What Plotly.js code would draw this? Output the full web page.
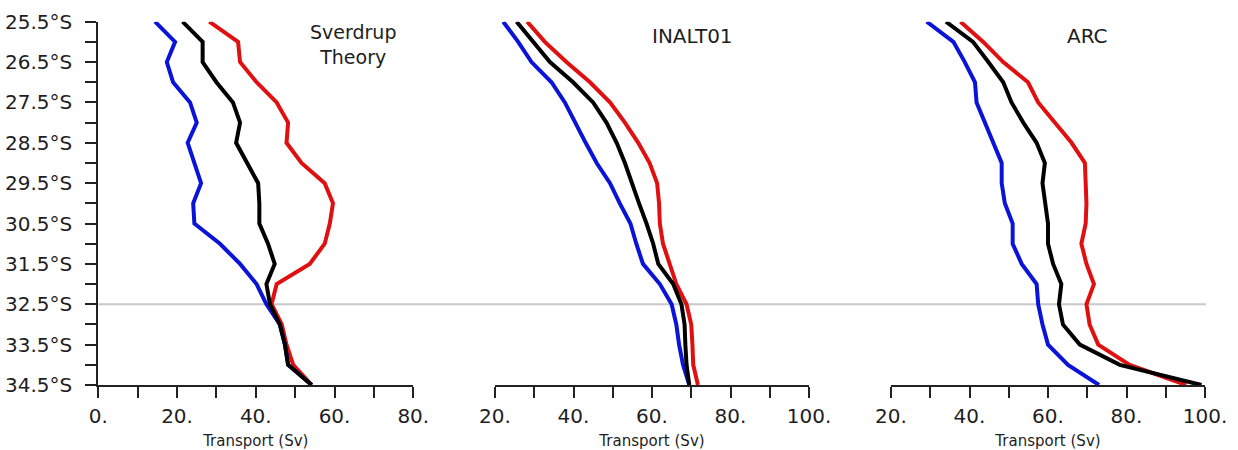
<!DOCTYPE html>
<html>
<head>
<meta charset="utf-8">
<script src="https://cdn.plot.ly/plotly-3.0.1.min.js"></script>
<style>html,body{margin:0;padding:0;background:#fff;}#chart{width:1238px;height:450px;}</style>
</head>
<body>
<div id="chart"></div>
<script>
// Latitudes (degrees South)
const lat = [25.5,26.0,26.5,27.0,27.5,28.0,28.5,29.0,29.5,30.0,30.5,31.0,31.5,32.0,32.5,33.0,33.5,34.0,34.5];

// Panel 1: Sverdrup Theory
const sverBlue  = [14.4,19.5,17.4,19.0,23.3,25.0,22.7,24.4,26.1,24.1,24.4,30.9,36.0,40.2,42.7,46.1,47.4,48.2,54.2];
const sverBlack = [21.4,26.5,26.5,30.0,34.2,36.0,35.0,37.7,40.6,40.9,40.9,43.1,44.8,42.7,43.6,46.1,47.4,48.2,54.2];
const sverRed   = [28.2,35.5,36.0,40.2,45.3,48.2,47.8,51.6,57.5,59.6,58.8,57.5,53.7,45.3,44.0,46.6,47.8,49.5,54.2];

// Panel 2: INALT01
const inaltBlue  = [22.1,25.9,29.3,34.4,37.8,40.4,43.1,45.9,49.3,51.8,54.5,56.0,57.7,62.0,65.0,66.2,66.9,67.9,69.5];
const inaltBlack = [25.5,29.7,34.0,39.9,45.0,48.4,51.0,53.1,54.8,56.7,58.6,60.3,61.6,65.4,67.5,68.3,68.5,68.8,69.5];
const inaltRed   = [28.2,32.7,38.2,44.2,49.3,53.1,56.5,59.4,61.3,61.8,62.0,62.8,64.5,66.2,68.8,70.0,70.3,70.5,71.7];

// Panel 3: ARC
const arcBlue  = [29.1,35.9,38.8,41.4,41.8,43.9,46.0,48.2,48.2,49.0,51.0,51.0,53.3,57.1,57.5,58.6,60.0,65.1,73.0];
const arcBlack = [34.0,40.9,44.8,48.6,50.7,53.7,57.1,59.2,58.6,59.2,60.0,60.0,61.3,63.4,62.8,63.8,68.1,78.3,99.1];
const arcRed   = [37.7,43.5,48.6,54.9,57.5,61.7,66.0,69.4,69.6,69.8,69.6,68.5,69.8,71.7,69.8,70.6,72.8,80.8,95.2];

const panelTitles = ["Sverdrup<br>Theory", "INALT01", "ARC"];
const xLabel = "Transport (Sv)";
const latTickVals = [25.5,26.0,26.5,27.0,27.5,28.0,28.5,29.0,29.5,30.0,30.5,31.0,31.5,32.0,32.5,33.0,33.5,34.0,34.5];
const latTickText = latTickVals.map(v => (v % 1 !== 0) ? v.toFixed(1) + "°S" : "");
const x1TickVals = [0,10,20,30,40,50,60,70,80];
const x1TickText = ["0.","","20.","","40.","","60.","","80."];
const x23TickVals = [20,30,40,50,60,70,80,90,100];
const x23TickText = ["20.","","40.","","60.","","80.","","100."];
const refLat = 32.5;

const colors = {blue:"#0a14d8", black:"#000000", red:"#e01010"};
const W = 1238, H = 450;
const FONT = "DejaVu Sans";
const TXT = "#1e1e1e";

function tr(x, y, color, xa) {
  return {x: x, y: y, xaxis: xa, yaxis: "y", mode: "lines", type: "scatter",
          line: {color: color, width: 4}, hoverinfo: "skip", showlegend: false};
}
const data = [
  tr(sverRed, lat, colors.red, "x"), tr(sverBlue, lat, colors.blue, "x"), tr(sverBlack, lat, colors.black, "x"),
  tr(inaltRed, lat, colors.red, "x2"), tr(inaltBlue, lat, colors.blue, "x2"), tr(inaltBlack, lat, colors.black, "x2"),
  tr(arcRed, lat, colors.red, "x3"), tr(arcBlue, lat, colors.blue, "x3"), tr(arcBlack, lat, colors.black, "x3")
];

function xax(domain, range, tv, tt) {
  return {domain: domain, range: range, anchor: "y", showgrid: false, zeroline: false,
          showline: true, linecolor: "#222", linewidth: 2,
          ticks: "outside", ticklen: 11, tickwidth: 2, tickcolor: "#222",
          tickmode: "array", tickvals: tv, ticktext: tt, ticklabelstandoff: 1,
          tickfont: {family: FONT, size: 20, color: TXT},
          title: {text: xLabel, font: {family: FONT, size: 15, color: TXT}, standoff: 9}};
}

const yTop = 21.7, yBot = 385;
function ann(text, xa, xv, ypx, size) {
  return {text: text, xref: xa, yref: "paper", x: xv, y: 1 - ypx/H, xanchor: "center", yanchor: "middle",
          showarrow: false, font: {family: FONT, size: size, color: TXT}};
}
const layout = {
  width: W, height: H,
  margin: {l: 0, r: 0, t: 0, b: 0},
  paper_bgcolor: "#fff", plot_bgcolor: "rgba(0,0,0,0)",
  showlegend: false,
  xaxis:  xax([98.3/W, 413.3/W], [0, 80], x1TickVals, x1TickText),
  xaxis2: xax([495/W, 809/W], [20, 100], x23TickVals, x23TickText),
  xaxis3: xax([891/W, 1205/W], [20, 100], x23TickVals, x23TickText),
  yaxis: {domain: [1 - yBot/H, 1 - yTop/H], range: [34.5, 25.5], anchor: "x",
          showgrid: false, zeroline: false, showline: true, linecolor: "#222", linewidth: 2,
          ticks: "outside", ticklen: 11, tickwidth: 2, tickcolor: "#222",
          tickmode: "array", tickvals: latTickVals, ticktext: latTickText, ticklabelstandoff: 9,
          tickfont: {family: FONT, size: 20, color: TXT}},
  shapes: [{type: "line", xref: "paper", yref: "y", x0: 98.3/W, x1: 1206/W, y0: refLat, y1: refLat,
            line: {color: "#c8c8c8", width: 2}, layer: "below"}],
  annotations: [
    ann(panelTitles[0], "x", 64.6, 45, 19),
    ann(panelTitles[1], "x2", 70.4, 35.5, 20),
    ann(panelTitles[2], "x3", 70.1, 35.5, 20)
  ]
};

Plotly.newPlot("chart", data, layout, {displayModeBar: false, staticPlot: true});
</script>
</body>
</html>
